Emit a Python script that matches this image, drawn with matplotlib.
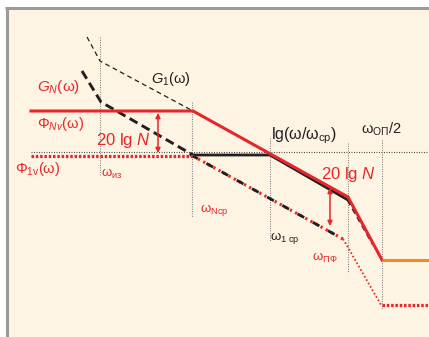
import matplotlib
matplotlib.use("Agg")
import matplotlib.pyplot as plt
from matplotlib import font_manager as fm
from matplotlib.patches import Rectangle

_names = {f.name for f in fm.fontManager.ttflist}
FONT = "Liberation Sans Narrow" if "Liberation Sans Narrow" in _names else "Liberation Sans"
plt.rcParams["font.family"] = [FONT, "DejaVu Sans"]
plt.rcParams["mathtext.fontset"] = "custom"
plt.rcParams["mathtext.rm"] = FONT
plt.rcParams["mathtext.it"] = FONT + ":italic"
plt.rcParams["mathtext.bf"] = FONT + ":bold"
plt.rcParams["lines.scale_dashes"] = False

# Asymptotic log-magnitude diagram (x: lg ω position, y: level, downward positive)
x_start, x_end = 31, 429
axis_level = 152

# break frequencies
w_iz, w_ncp, w_1cp, w_pf, w_op2 = 100, 192, 270, 348, 382

# G_N(ω): amplified characteristic
gn_x = [x_start, 193, 348, 382]
gn_y = [111, 111, 197, 260]
gn_tail_x = [382, x_end]
gn_tail_y = [260, 260]

# G_1(ω): original characteristic (solid + steep dashed part)
g1_x = [191, 270, 348]
g1_y = [155, 155, 200]
g1_steep_x = [348, 373]
g1_steep_y = [200, 244]

# G_1(ω) continued to low frequencies (thin dashed)
g1_low_x = [87, 100, 193]
g1_low_y = [37, 61, 111]

# Noise characteristic, thick dashed
gnz_x = [82, 101, 193]
gnz_y = [71, 102, 155]

# Φ_1v(ω)
phi_flat_x = [x_start, 193]
phi_flat_y = [156, 156]
phi_slope_x = [193, 343]
phi_slope_y = [156, 239]
phi_steep_x = [343, 346, 381]
phi_steep_y = [239, 244, 305]
phi_tail_x = [382, x_end]
phi_tail_y = [305, 305]

# vertical markers: (x, top, bottom)
markers_x = [w_iz, w_ncp, w_1cp, w_pf, w_op2]
markers_top = [37, 102, 138, 143, 140]
markers_bot = [175, 217, 241, 273, 309]

# level-difference arrows: (x, top, bottom)
arrows_x = [158, 330]
arrows_top = [113, 188]
arrows_bot = [153, 226]

RED = "#E8262A"
ORANGE = "#F08A24"
BLACK = "#231F20"
CREAM = "#FDF4E3"
GRAY = "#9B9B9B"

fig = plt.figure(figsize=(4.29, 3.37), dpi=100)
fig.patch.set_facecolor("white")
ax = fig.add_axes([0, 0, 1, 1])
ax.set_xlim(0, 429)
ax.set_ylim(337, 0)
ax.axis("off")

# panel background and frame
ax.add_patch(Rectangle((7, 8), 430, 340, facecolor=CREAM, edgecolor="none", zorder=0))
ax.plot([5, 429], [8, 8], color=GRAY, lw=2.2, solid_capstyle="butt", zorder=1)
ax.plot([7, 7], [8, 337], color=GRAY, lw=2.2, solid_capstyle="butt", zorder=1)

# dotted lg-axis
ax.plot([x_start, x_end], [axis_level, axis_level], color="#444444", lw=0.8,
        linestyle=(0, (0.7, 1.1)), zorder=2)

# vertical markers
for x, t, b in zip(markers_x, markers_top, markers_bot):
    ax.plot([x, x], [t, b], color="#7F7F7F", lw=0.8, linestyle=(0, (0.7, 1.0)), zorder=2)

# G_1 low-frequency thin dashed
ax.plot(g1_low_x, g1_low_y, color=BLACK, lw=0.9, linestyle=(0, (3.5, 2.5)), zorder=3)

# thick dashed
ax.plot(gnz_x, gnz_y, color=BLACK, lw=2.1, linestyle=(0, (6.5, 3.5)), zorder=3)

# G_1 solid + steep dashed
ax.plot(g1_x, g1_y, color=BLACK, lw=2.0, solid_joinstyle="miter", zorder=4)
ax.plot(g1_steep_x, g1_steep_y, color=BLACK, lw=2.0, linestyle=(0, (4, 3)), zorder=4)

# Φ_1v
ax.plot(phi_flat_x, phi_flat_y, color=RED, lw=2.3, linestyle=(0, (1.8, 1.3)), zorder=5)
ax.plot(phi_slope_x, phi_slope_y, color=RED, lw=2.2, linestyle=(0, (1.6, 2.6)), zorder=5)
ax.plot(phi_slope_x, phi_slope_y, color=BLACK, lw=2.0, linestyle=(1.5, (5.5, 7.0)), zorder=5)
ax.plot(phi_steep_x, phi_steep_y, color=RED, lw=1.3, linestyle=(0, (1.2, 1.6)), zorder=5)
ax.plot(phi_tail_x, phi_tail_y, color=RED, lw=2.3, linestyle=(0, (1.8, 1.3)), zorder=5)

# G_N
ax.plot(gn_x, gn_y, color=RED, lw=2.2, solid_joinstyle="miter", zorder=6)
ax.plot(gn_tail_x, gn_tail_y, color=ORANGE, lw=2.2, solid_capstyle="butt", zorder=6)

# arrows
for x, t, b in zip(arrows_x, arrows_top, arrows_bot):
    ax.annotate("", xy=(x, t), xytext=(x, b),
                arrowprops=dict(arrowstyle="<|-|>", color=RED, lw=1.1,
                                mutation_scale=7, shrinkA=0, shrinkB=0), zorder=7)

# labels
def label(x, y, s, color, size):
    ax.text(x, y, s, color=color, fontsize=size, ha="left", va="center", zorder=8)

label(37, 87, r"$\mathit{G}_{\mathit{N}}\mathrm{(ω)}$", RED, 11)
label(37, 124, r"$\mathrm{Φ}_{\mathit{Nv}}\mathrm{(ω)}$", RED, 10.5)
label(96, 141, r"$\mathrm{20\ lg}\ \mathit{N}$", RED, 12)
label(151, 79, r"$\mathit{G}_{\mathrm{1}}\mathrm{(ω)}$", BLACK, 10.5)
label(15, 169, r"$\mathrm{Φ}_{\mathrm{1v}}\mathrm{(ω)}$", RED, 10.5)
label(101, 174, r"$\mathrm{ω}_{\mathrm{из}}$", RED, 9.5)
label(200, 210, r"$\mathrm{ω}_{\mathrm{Ncp}}$", RED, 9.5)
label(271, 136, r"$\mathrm{lg(ω/ω}_{\mathrm{cp}}\mathrm{)}$", BLACK, 11.5)
label(361, 129, r"$\mathrm{ω}_{\mathrm{ОП}}\mathrm{/2}$", BLACK, 10.5)
label(321, 175, r"$\mathrm{20\ lg}\ \mathit{N}$", RED, 12)
label(270, 238, r"$\mathrm{ω}_{\mathrm{1\ cp}}$", BLACK, 9.5)
label(312, 258, r"$\mathrm{ω}_{\mathrm{ПФ}}$", RED, 9.5)

fig.savefig("out.png", dpi=100, facecolor="white")
